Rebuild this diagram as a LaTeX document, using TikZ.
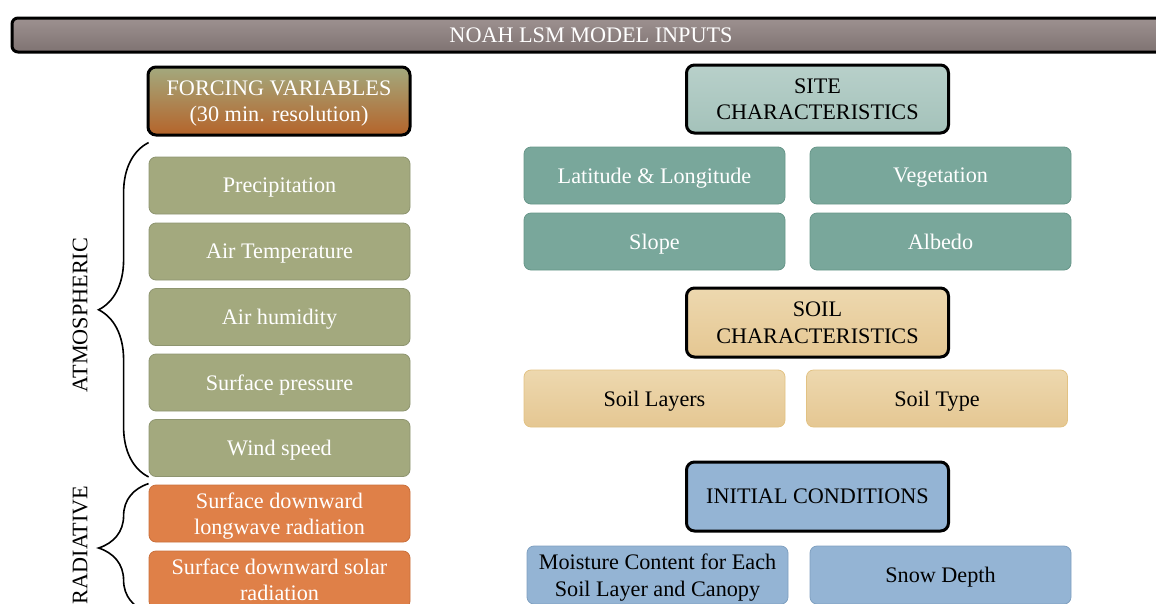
\documentclass[tikz,border=0pt]{standalone}
\usepackage{fontspec}
\setmainfont{Liberation Serif}
\usetikzlibrary{decorations.pathreplacing}
\definecolor{titletop}{HTML}{9D9190}
\definecolor{titlebot}{HTML}{7F7372}
\definecolor{olive}{HTML}{A3A97E}
\definecolor{oliveline}{HTML}{8E9570}
\definecolor{rust}{HTML}{DF8048}
\definecolor{rustline}{HTML}{C96F3B}
\definecolor{rustdark}{HTML}{B5642A}
\definecolor{teal}{HTML}{79A79B}
\definecolor{tealline}{HTML}{679689}
\definecolor{tealtop}{HTML}{B8D0CA}
\definecolor{tealbot}{HTML}{A4C2BA}
\definecolor{sandtop}{HTML}{EDD8AF}
\definecolor{sandbot}{HTML}{E5C792}
\definecolor{sandline}{HTML}{E2C283}
\definecolor{sky}{HTML}{94B4D4}
\definecolor{skyline}{HTML}{7FA0C0}
\tikzset{
    x=1pt,
    y=-1pt,
    every node/.style = {
        font=\fontsize{22.2}{26.5}\selectfont,
        align=center,
        inner sep=0pt,
        text depth=0pt
    },
    header/.style = {
        draw=black,
        shape=rectangle,
        rounded corners=8pt,
        minimum width=262,
        minimum height=68,
        line width=3pt
    },
    item/.style = {
        draw,
        shape=rectangle,
        rounded corners=7pt,
        minimum width=261,
        minimum height=57,
        line width=0.8pt
    },
    atmo/.style = {item, draw=oliveline, fill=olive, text=white},
    rad/.style = {item, draw=rustline, fill=rust, text=white},
    site/.style = {item, draw=tealline, fill=teal, text=white},
    soil/.style = {item, draw=sandline, top color=sandtop, bottom color=sandbot},
    init/.style = {item, draw=skyline, fill=sky},
    curly/.style = {
        decorate,
        decoration={brace, amplitude=50pt},
        line width=1.6pt
    },
    group/.style = {rotate=90}
}

\begin{document}
\begin{tikzpicture}
            \useasboundingbox (0,0) rectangle (1156,603);

            \node[header, minimum width=1158, minimum height=34, rounded corners=6pt,
            top color=titletop, bottom color=titlebot, text=white] (title) at (591,35)
            {NOAH LSM MODEL INPUTS};

            % forcing variables
            \node[header, top color=olive, middle color=olive, bottom color=rustdark,
            text=white] (forcing) at (279,101) {FORCING VARIABLES\\(30 min. resolution)};
            \node[atmo] (precip) at (279.5,185.5) {Precipitation};
            \node[atmo] (temp) at (279.5,251.5) {Air Temperature};
            \node[atmo] (humid) at (279.5,317) {Air humidity};
            \node[atmo] (press) at (279.5,382.5) {Surface pressure};
            \node[atmo] (wind) at (279.5,448) {Wind speed};
            \node[rad] (longw) at (279.5,513.5) {Surface downward\\longwave radiation};
            \node[rad] (solar) at (279.5,579.5) {Surface downward solar\\radiation};

            \draw[curly] (wind.south west) -- ([yshift=14pt]precip.north west);
            \draw[curly] ([yshift=-4pt]solar.south west) -- ([yshift=1pt]longw.north west);
            \node[group] (atmlab) at (80,315) {ATMOSPHERIC};
            \node[group] (radlab) at (80,545) {RADIATIVE};

            % site
            \node[header, top color=tealtop, bottom color=tealbot] (sitehd) at (817.5,99)
            {SITE\\CHARACTERISTICS};
            \node[site] (latlon) at (654.5,175.5) {Latitude \& Longitude};
            \node[site] (veg) at (940.5,175.5) {Vegetation};
            \node[site] (slope) at (654.5,241.5) {Slope};
            \node[site] (albedo) at (940.5,241.5) {Albedo};

            % soil
            \node[header, top color=sandtop, bottom color=sandbot, minimum height=69]
            (soilhd) at (817.5,322.5) {SOIL\\CHARACTERISTICS};
            \node[soil] (layers) at (654.5,398.5) {Soil Layers};
            \node[soil] (stype) at (937,398.5) {Soil Type};

            % initial conditions
            \node[header, fill=sky, minimum height=69] (inithd) at (817.5,496.5)
            {INITIAL CONDITIONS};
            \node[init, minimum height=58] (moist) at (657.5,575)
            {Moisture Content for Each\\Soil Layer and Canopy};
            \node[init, minimum height=58] (snow) at (940.5,575) {Snow Depth};
\end{tikzpicture}
\end{document}
